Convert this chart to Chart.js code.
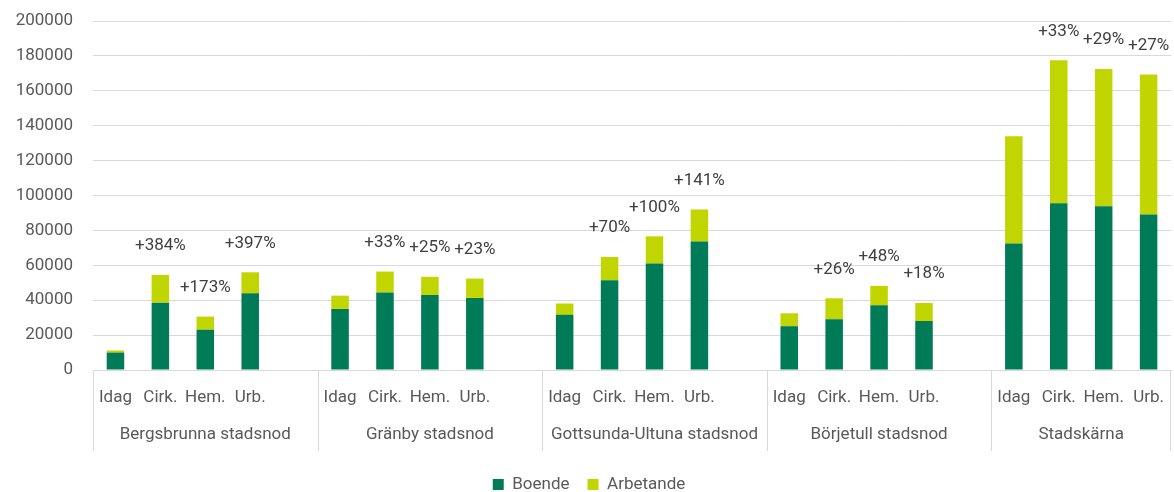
<!DOCTYPE html>
<html>
<head>
<meta charset="utf-8">
<script src="https://cdn.jsdelivr.net/npm/chart.js@4/dist/chart.umd.min.js"></script>
<style>
  html, body { margin: 0; padding: 0; background: #fff; }
  #wrap { width: 1174px; height: 492px; }
</style>
</head>
<body>
<div id="wrap"><canvas id="chart"></canvas></div>
<script>
// scenarier och stadsnoder
var scenarier = ['Idag', 'Cirk.', 'Hem.', 'Urb.'];
var noder = ['Bergsbrunna stadsnod', 'Gränby stadsnod', 'Gottsunda-Ultuna stadsnod', 'Börjetull stadsnod', 'Stadskärna'];

// värden per nod (Idag, Cirk., Hem., Urb.)
var boende = [
  10000, 38600, 23100, 44000,
  35000, 44400, 43000, 41300,
  31600, 51500, 61000, 73600,
  25100, 29100, 37100, 28100,
  72500, 95600, 93900, 89100
];
var arbetande = [
  1200, 15900, 7500, 12000,
  7600, 12000, 10400, 11100,
  6500, 13300, 15600, 18400,
  7400, 12000, 11100, 10300,
  61400, 81900, 78600, 80300
];
var okning = [
  '', '+384%', '+173%', '+397%',
  '', '+33%', '+25%', '+23%',
  '', '+70%', '+100%', '+141%',
  '', '+26%', '+48%', '+18%',
  '', '+33%', '+29%', '+27%'
];

var FONT = 'Roboto';
var GRA = '#595959';
var LINJE = '#d9d9d9';

// bygg etiketter med en tom plats mellan grupperna
var labels = [], dBoende = [], dArbetande = [], dOkning = [], gruppStart = [];
for (var g = 0; g < noder.length; g++) {
  gruppStart.push(labels.length);
  for (var s = 0; s < scenarier.length; s++) {
    var k = g * scenarier.length + s;
    labels.push(scenarier[s]);
    dBoende.push(boende[k]);
    dArbetande.push(arbetande[k]);
    dOkning.push(okning[k]);
  }
  if (g < noder.length - 1) {  // tom plats
    labels.push('');
    dBoende.push(null);
    dArbetande.push(null);
    dOkning.push('');
  }
}
gruppStart.push(labels.length);

var gruppPlugin = {
  id: 'grupper',
  afterDraw: function(chart) {
    var ctx = chart.ctx;
    var x = chart.scales.x, y = chart.scales.y;
    var steg = x.getPixelForValue(1) - x.getPixelForValue(0);
    var bottom = chart.chartArea.bottom;
    ctx.save();
    // avdelare och gruppnamn
    ctx.strokeStyle = LINJE;
    ctx.lineWidth = 1;
    for (var i = 0; i < gruppStart.length; i++) {
      var px = Math.round(x.getPixelForValue(gruppStart[i]) - steg / 2) + 0.5;
      if (i == gruppStart.length - 1) px = Math.round(x.getPixelForValue(gruppStart[i] - 1) + steg / 2) - 0.5;
      ctx.beginPath();
      ctx.moveTo(px, bottom);
      ctx.lineTo(px, bottom + 81);
      ctx.stroke();
    }
    ctx.fillStyle = GRA;
    ctx.font = '17px ' + FONT;
    ctx.textAlign = 'center';
    ctx.textBaseline = 'middle';
    for (var j = 0; j < noder.length; j++) {
      var a = x.getPixelForValue(gruppStart[j]) - steg / 2;
      var b = x.getPixelForValue(gruppStart[j] + scenarier.length - 1) + steg / 2;
      if (j < noder.length - 1) b += steg;
      ctx.fillText(noder[j], (a + b) / 2, bottom + 65);
    }
    // procentetiketter ovanför staplarna
    ctx.fillStyle = '#404040';
    for (var n = 0; n < labels.length; n++) {
      if (!dOkning[n]) continue;
      var topp = y.getPixelForValue(dBoende[n] + dArbetande[n]);
      ctx.fillText(dOkning[n], x.getPixelForValue(n), topp - 29);
    }
    ctx.restore();
  }
};

var chart = new Chart(document.getElementById('chart'), {
  type: 'bar',
  data: {
    labels: labels,
    datasets: [
      { label: 'Boende', data: dBoende, backgroundColor: '#007b57', borderWidth: 0 },
      { label: 'Arbetande', data: dArbetande, backgroundColor: '#c1d600', borderWidth: 0 }
    ]
  },
  options: {
    responsive: true,
    maintainAspectRatio: false,
    animation: false,
    layout: { padding: { top: 21, right: -4, left: 0, bottom: -11 } },
    datasets: { bar: { categoryPercentage: 1, barPercentage: 0.39 } },
    plugins: {
      legend: {
        position: 'bottom',
        labels: {
          boxWidth: 11, boxHeight: 11, padding: 18,
          color: GRA, font: { family: FONT, size: 17 }
        }
      },
      tooltip: { enabled: false }
    },
    scales: {
      x: {
        stacked: true,
        grid: { display: false },
        border: { display: true, color: LINJE, width: 1 },
        ticks: { color: GRA, font: { family: FONT, size: 17 }, padding: 10, autoSkip: false, maxRotation: 0 },
        afterFit: function(scale) { scale.height = 88; }
      },
      y: {
        stacked: true,
        min: 0, max: 200000,
        grid: { color: LINJE, drawTicks: false },
        border: { display: false },
        ticks: {
          stepSize: 20000, color: GRA, font: { family: FONT, size: 17 }, padding: 20,
          callback: function(v) { return String(v); }
        },
        afterFit: function(scale) { scale.width = 93; scale.paddingTop = 0; }
      }
    }
  },
  plugins: [gruppPlugin]
});
</script>
</body>
</html>
